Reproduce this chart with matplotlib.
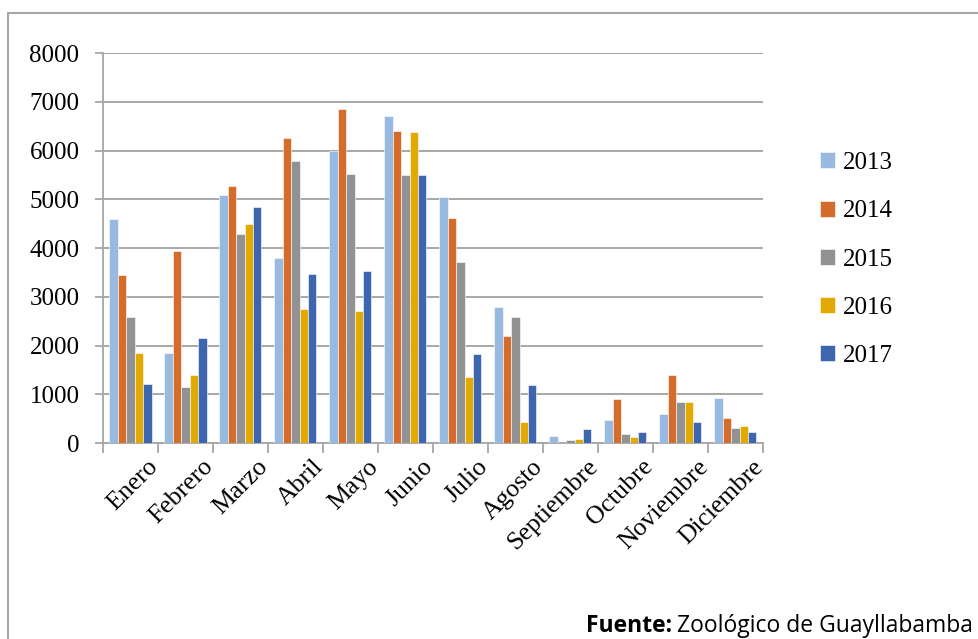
import numpy as np
import matplotlib.pyplot as plt
from matplotlib.patches import Rectangle

meses = ["Enero", "Febrero", "Marzo", "Abril", "Mayo", "Junio", "Julio",
         "Agosto", "Septiembre", "Octubre", "Noviembre", "Diciembre"]
anios = ["2013", "2014", "2015", "2016", "2017"]

v2013 = [4600, 1850, 5090, 3800, 6000, 6700, 5055, 2800, 140, 480, 600, 930]
v2014 = [3440, 3940, 5275, 6255, 6855, 6395, 4615, 2205, 0, 910, 1390, 520]
v2015 = [2595, 1140, 4280, 5780, 5515, 5500, 3705, 2595, 55, 185, 835, 315]
v2016 = [1850, 1400, 4495, 2755, 2700, 6375, 1345, 435, 75, 130, 835, 340]
v2017 = [1220, 2145, 4850, 3460, 3525, 5495, 1830, 1200, 295, 235, 440, 235]

series = [v2013, v2014, v2015, v2016, v2017]
colores = ["#98BAE0", "#D46C2C", "#929292", "#E2AA00", "#3D66AE"]

plt.rcParams['font.family'] = ['Liberation Serif', 'DejaVu Serif']

fig = plt.figure(figsize=(9.79, 6.39), dpi=100)
ax = fig.add_axes([0.1052, 0.3067, 0.674, 0.6103])

# marco exterior del grafico
fig.patches.append(Rectangle((8 / 979, -0.05), 1.1, 1 - 13 / 639 + 0.05,
                             transform=fig.transFigure, fill=False,
                             edgecolor="#A6A6A6", linewidth=1.5))

x = np.arange(len(meses))
ancho = 0.153
for i, (vals, col, lab) in enumerate(zip(series, colores, anios)):
    ax.bar(x + (i - 2) * ancho, vals, ancho, color=col, label=lab,
           edgecolor="white", linewidth=0.4, zorder=3)

ax.set_xlim(-0.5, 11.5)
ax.set_ylim(0, 8000)
ax.set_yticks(range(0, 8001, 1000))
ax.yaxis.grid(True, color="#A0A0A0", linewidth=1.3, zorder=0)

for s in ["top", "right"]:
    ax.spines[s].set_visible(False)
for s in ["left", "bottom"]:
    ax.spines[s].set_color("#A6A6A6")
    ax.spines[s].set_linewidth(1.3)

ax.tick_params(axis="y", length=6, color="#A6A6A6", width=1.3,
               labelsize=18, pad=11)
ax.set_xticks(np.arange(-0.5, 12, 1))
ax.set_xticklabels([])
ax.tick_params(axis="x", length=7, color="#A6A6A6", width=1.3)
for xi, m in zip(x, meses):
    ax.text(xi + 0.3, -260, m, rotation=45, ha="right", va="top",
            rotation_mode="anchor", fontsize=18.5)

ax.legend(loc="center left", bbox_to_anchor=(1.053, 0.47), frameon=False,
          prop={"family": "Liberation Serif", "size": 18},
          handlelength=0.6, handleheight=0.6,
          handletextpad=0.3, labelspacing=1.05)

# nota de la fuente
nota = fig.text(973 / 979, 1 - 632 / 639, "Zoológico de Guayllabamba",
                ha="right", va="baseline", fontsize=16.5, family="Open Sans")
fig.canvas.draw()
caja = nota.get_window_extent()
fig.text((caja.x0 - 5) / 979, 1 - 632 / 639, "Fuente:", ha="right",
         va="baseline", fontsize=16.5, family="Open Sans", fontweight="bold")

fig.savefig("out.png", dpi=100)
